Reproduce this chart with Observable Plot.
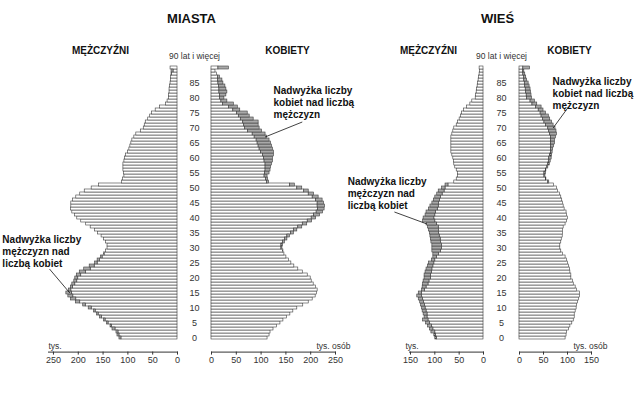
<!DOCTYPE html>
<html><head><meta charset="utf-8">
<script src="https://cdn.jsdelivr.net/npm/d3@7"></script>
<script src="https://cdn.jsdelivr.net/npm/@observablehq/plot@0.6"></script>
<style>
body{margin:0;background:#fff;}
#chart{position:relative;width:638px;height:404px;background:#fff;overflow:hidden;}
#chart svg{position:absolute;left:0;top:0;background:transparent !important;}
</style></head><body><div id="chart"></div>
<script>
// ---- data (thousands of persons, index = age 0..90; 90 = "90 lat i więcej") ----
const ages = d3.range(0, 91);
const ageTicks = d3.range(0, 90, 5);
const topAgeLabel = "90 lat i więcej";
const miastaTicks = [0, 50, 100, 150, 200, 250];
const wiesTicks = [0, 50, 100, 150];
const titles = ["MIASTA", "WIEŚ"];
const sexLabels = ["MĘŻCZYŹNI", "KOBIETY"];
const unitLabels = ["tys.", "tys. osób"];
const noteMen = "Nadwyżka liczby\nmężczyzn nad\nliczbą kobiet";
const noteWomen = "Nadwyżka liczby\nkobiet nad liczbą\nmężczyzn";

const miastaMen = [117,121,123,131,135,142,148,156,162,168,179,190,205,215,220,224,219,215,212,208,
  206,203,197,188,177,166,161,154,148,144,141,141,144,148,153,160,166,175,184,194,
  202,207,212,215,214,214,211,204,196,187,173,158,112,110,107,108,109,109,109,107,
  106,104,100,97,95,93,91,87,83,74,68,66,64,59,55,51,44,35,23,20,
  17,17,16,16,15,14,13,13,12,12,14];
const miastaWomen = [113,117,119,125,132,139,145,152,159,165,173,185,196,204,210,213,214,211,206,202,
  200,194,184,175,167,161,156,151,147,145,143,144,148,153,158,166,173,183,193,203,
  211,219,225,228,229,227,224,216,207,196,183,168,116,114,113,117,119,120,122,124,
  124,126,126,124,122,120,117,112,109,102,97,95,95,85,77,73,58,53,45,32,
  26,30,32,30,28,24,22,17,11,8,35];
const wiesMen = [99,101,107,110,114,118,124,121,123,125,126,128,130,133,136,133,126,125,124,123,
  121,121,119,117,114,112,106,103,103,105,105,105,107,108,109,110,112,114,117,124,
  123,119,117,112,109,105,102,99,95,92,85,78,60,55,52,52,55,58,60,61,
  62,64,66,66,66,66,66,66,64,62,60,55,52,49,46,44,40,34,27,23,
  16,15,14,13,12,11,10,9,8,7,8];
const wiesWomen = [96,98,99,103,106,110,113,115,115,117,119,120,122,124,126,126,120,117,113,111,
  108,108,106,105,103,101,99,96,91,87,85,85,87,88,90,91,91,92,96,99,
  101,99,98,94,92,91,89,87,84,80,78,72,62,56,54,55,56,60,63,65,
  67,68,69,70,72,74,74,76,78,77,75,71,68,64,61,55,50,46,37,32,
  26,25,24,23,21,19,16,14,12,10,22];

// ---- drawing ----
const FONT = '"Liberation Sans", Arial, Helvetica, sans-serif';
const W = 638, H = 404, TOP = 53.2, BOTTOM = 52.4;

function panel(own, other, xDomain, mL, mR, ticks, extra) {
  const rows = ages.map(a => ({age: a, own: own[a], other: other[a], base: Math.min(own[a], other[a])}));
  return Plot.plot({
    width: W, height: H,
    marginTop: TOP, marginBottom: BOTTOM, marginLeft: mL, marginRight: mR,
    style: {background: "transparent", fontFamily: FONT, fontSize: "9px", color: "#333", overflow: "visible"},
    x: {domain: xDomain, ticks: ticks, tickSize: 3, tickPadding: 2, line: true, label: null, tickFormat: d => String(d)},
    y: {type: "band", domain: d3.range(90, -1, -1), padding: 0, axis: null},
    marks: [
      Plot.barX(rows, {y: "age", x1: 0, x2: "base", fill: "white", stroke: "#3c3c3c", strokeWidth: 0.6}),
      Plot.barX(rows.filter(d => d.own > d.other), {y: "age", x1: "other", x2: "own", fill: "#a9a9a9", stroke: "#3c3c3c", strokeWidth: 0.6}),
      ...extra
    ]
  });
}

const bold = {fontWeight: "bold", fill: "#111", fontFamily: FONT};
function label(txt, anchor, dx, dy, size) {
  return Plot.text([txt], {text: d => d, frameAnchor: anchor, dx, dy, fontSize: size, textAnchor: "middle", lineAnchor: "middle", ...bold});
}
function ageAxis(dx) {
  return [
    Plot.text(ageTicks, {y: d => d, text: d => String(d), frameAnchor: "left", dx, textAnchor: "middle", fontSize: 9, fill: "#333"}),
    Plot.text([90], {y: d => d, text: () => topAgeLabel, frameAnchor: "left", dx, dy: -12, textAnchor: "middle", fontSize: 8.5, fill: "#333"})
  ];
}
function unit(txt, anchor, dx, textAnchor) {
  return Plot.text([txt], {text: d => d, frameAnchor: anchor, dx, dy: -6, textAnchor, lineAnchor: "middle", fontSize: 8.5, fill: "#333"});
}
function note(txt, age, value, dy, fromAge, fromValue, toAge, toValue) {
  return [
    Plot.text([txt], {text: d => d, x: () => value, y: () => age, dy, textAnchor: "start", lineAnchor: "middle", lineHeight: 1.2, fontSize: 10, ...bold}),
    Plot.link([0], {x1: () => fromValue, y1: () => fromAge, x2: () => toValue, y2: () => toAge, stroke: "#111", strokeWidth: 0.8})
  ];
}

const chart = document.getElementById("chart");

// MIASTA – men
chart.append(panel(miastaMen, miastaWomen, [260, 0], 48, W - 177, miastaTicks, [
  label(titles[0], "top-right", 14, -35, 13),
  label(sexLabels[0], "top-left", 52, -3, 10),
  unit(unitLabels[0], "bottom-left", 0, "start"),
  ...note(noteMen, 29, 353, 0, 23, 258, 15, 217)
]));
// MIASTA – women
chart.append(panel(miastaWomen, miastaMen, [0, 250], 211, W - 335, miastaTicks, [
  label(sexLabels[1], "top-left", 76, -3, 10),
  ...ageAxis(-17),
  unit(unitLabels[1], "bottom-right", 15, "end"),
  ...note(noteWomen, 79, 125, 1, 72, 183, 67, 108)
]));
// WIEŚ – men
chart.append(panel(wiesMen, wiesWomen, [152, 0], 409, W - 483, wiesTicks, [
  label(titles[1], "top-right", 14, -35, 13),
  label(sexLabels[0], "top-left", 19, -3, 10),
  unit(unitLabels[0], "bottom-left", -4, "start"),
  ...note(noteMen, 48, 279, -1, 42, 183, 38, 116)
]));
// WIEŚ – women
chart.append(panel(wiesWomen, wiesMen, [0, 150], 519, W - 591, wiesTicks, [
  label(sexLabels[1], "top-left", 50, -3, 10),
  ...ageAxis(-18),
  unit(unitLabels[1], "bottom-right", 16, "end"),
  ...note(noteWomen, 82, 69, 1, 77, 102, 70, 70)
]));
</script></body></html>
